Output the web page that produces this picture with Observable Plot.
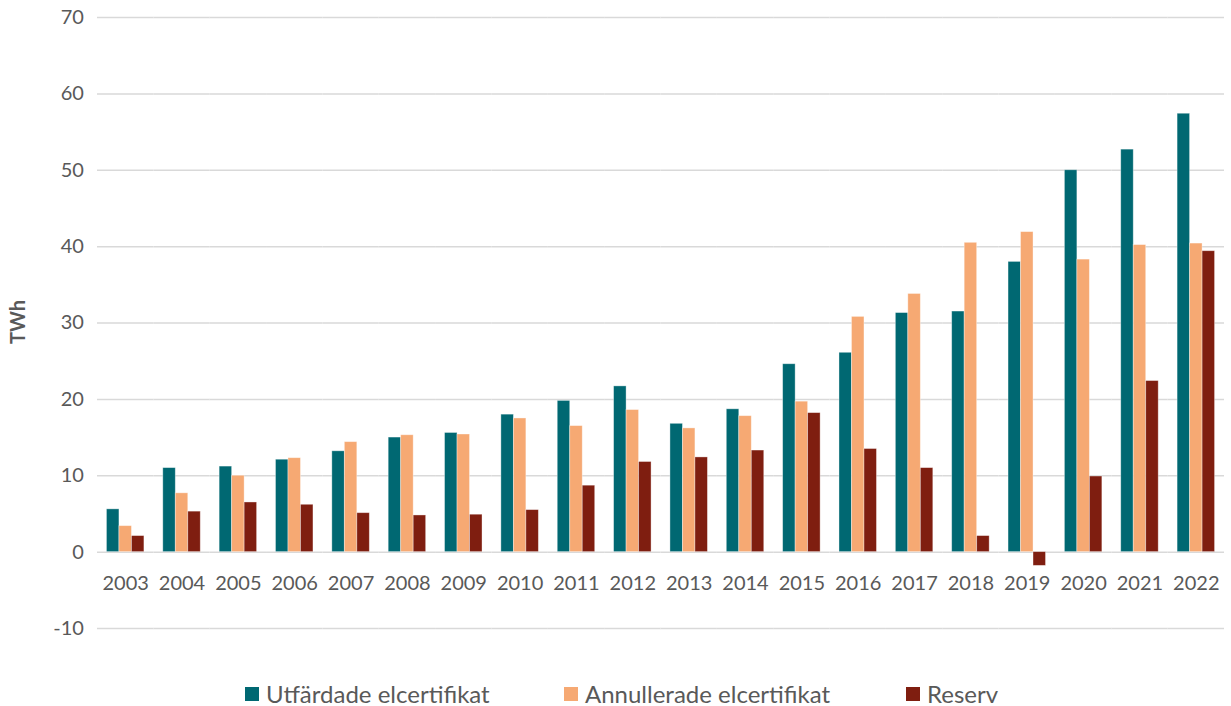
<!DOCTYPE html>
<html>
<head>
<meta charset="utf-8">
<script src="https://cdn.jsdelivr.net/npm/d3@7"></script>
<script src="https://cdn.jsdelivr.net/npm/@observablehq/plot@0.6"></script>
<style>
  body { margin: 0; background: #fff; }
  #wrap { position: relative; width: 1231px; height: 706px; font-family: Lato, "Open Sans", sans-serif; }
  .leg { position: absolute; top: 679px; font-size: 24px; line-height: 29px; color: #595959; display: flex; align-items: center; white-space: nowrap; }
  .sw { width: 14px; height: 14px; margin-right: 7px; display: inline-block; }
</style>
</head>
<body>
<div id="wrap"></div>
<script>
const years = ["2003","2004","2005","2006","2007","2008","2009","2010","2011","2012","2013","2014","2015","2016","2017","2018","2019","2020","2021","2022"];
const seriesNames = ["Utfärdade elcertifikat", "Annullerade elcertifikat", "Reserv"];
const utfardade   = [5.6, 11.0, 11.2, 12.1, 13.2, 15.0, 15.6, 18.0, 19.8, 21.7, 16.8, 18.7, 24.6, 26.1, 31.3, 31.5, 38.0, 50.0, 52.7, 57.4];
const annullerade = [3.4, 7.7, 10.0, 12.3, 14.4, 15.3, 15.4, 17.5, 16.5, 18.6, 16.2, 17.8, 19.7, 30.8, 33.8, 40.5, 41.9, 38.3, 40.2, 40.4];
const reserv      = [2.1, 5.3, 6.5, 6.2, 5.1, 4.8, 4.9, 5.5, 8.7, 11.8, 12.4, 13.3, 18.2, 13.5, 11.0, 2.1, -1.8, 9.9, 22.4, 39.4];
const yTicks = [-10, 0, 10, 20, 30, 40, 50, 60, 70];
const yTickLabels = ["-10", "0", "10", "20", "30", "40", "50", "60", "70"];
const colors = ["#006872", "#F6A973", "#7F1E10"];
const yLabel = "TWh";

const seriesValues = [utfardade, annullerade, reserv];
const table = [];
years.forEach((yr, i) => {
  seriesNames.forEach((s, k) => table.push({year: yr, series: s, value: seriesValues[k][i]}));
});

const W = 1231, ML = 97, MR = 7;
const PAD = 0.335;
const halfGap = ((W - ML - MR) / years.length) * PAD / 2;

const chart = Plot.plot({
  width: W,
  height: 660,
  marginLeft: ML,
  marginRight: MR,
  marginTop: 17,
  marginBottom: 32,
  style: {fontFamily: "Lato, 'Open Sans', sans-serif", fontSize: "20px", color: "#595959", background: "white"},
  fx: {domain: years, paddingInner: PAD, paddingOuter: PAD / 2, round: false, axis: null, label: null},
  x: {domain: seriesNames, padding: 0, round: false, axis: null},
  y: {domain: [-10, 70], ticks: yTicks, tickFormat: d => yTickLabels[yTicks.indexOf(d)], tickSize: 0, tickPadding: 23, label: null},
  color: {domain: seriesNames, range: colors},
  marks: [
    Plot.ruleY(yTicks, {stroke: "#d9d9d9", strokeWidth: 1.5, insetLeft: -halfGap, insetRight: -halfGap}),
    Plot.barY(table, {fx: "year", x: "series", y: "value", fill: "series", stroke: "white", strokeOpacity: 0.45, strokeWidth: 0.8}),
    Plot.text(years, {fx: d => d, y: d => 0, text: d => d, dy: 31, fill: "#595959", fontSize: 20})
  ]
});

d3.select(chart).append("text")
  .attr("transform", "translate(25,322) rotate(-90)")
  .attr("text-anchor", "middle")
  .attr("font-weight", "bold")
  .attr("font-size", 20)
  .attr("fill", "#595959")
  .text(yLabel);

const wrap = document.getElementById("wrap");
wrap.appendChild(chart);

const legLeft = [245, 564, 906];
seriesNames.forEach((s, k) => {
  const div = document.createElement("div");
  div.className = "leg";
  div.style.left = legLeft[k] + "px";
  div.innerHTML = `<span class="sw" style="background:${colors[k]}"></span><span>${s}</span>`;
  wrap.appendChild(div);
});
</script>
</body>
</html>
